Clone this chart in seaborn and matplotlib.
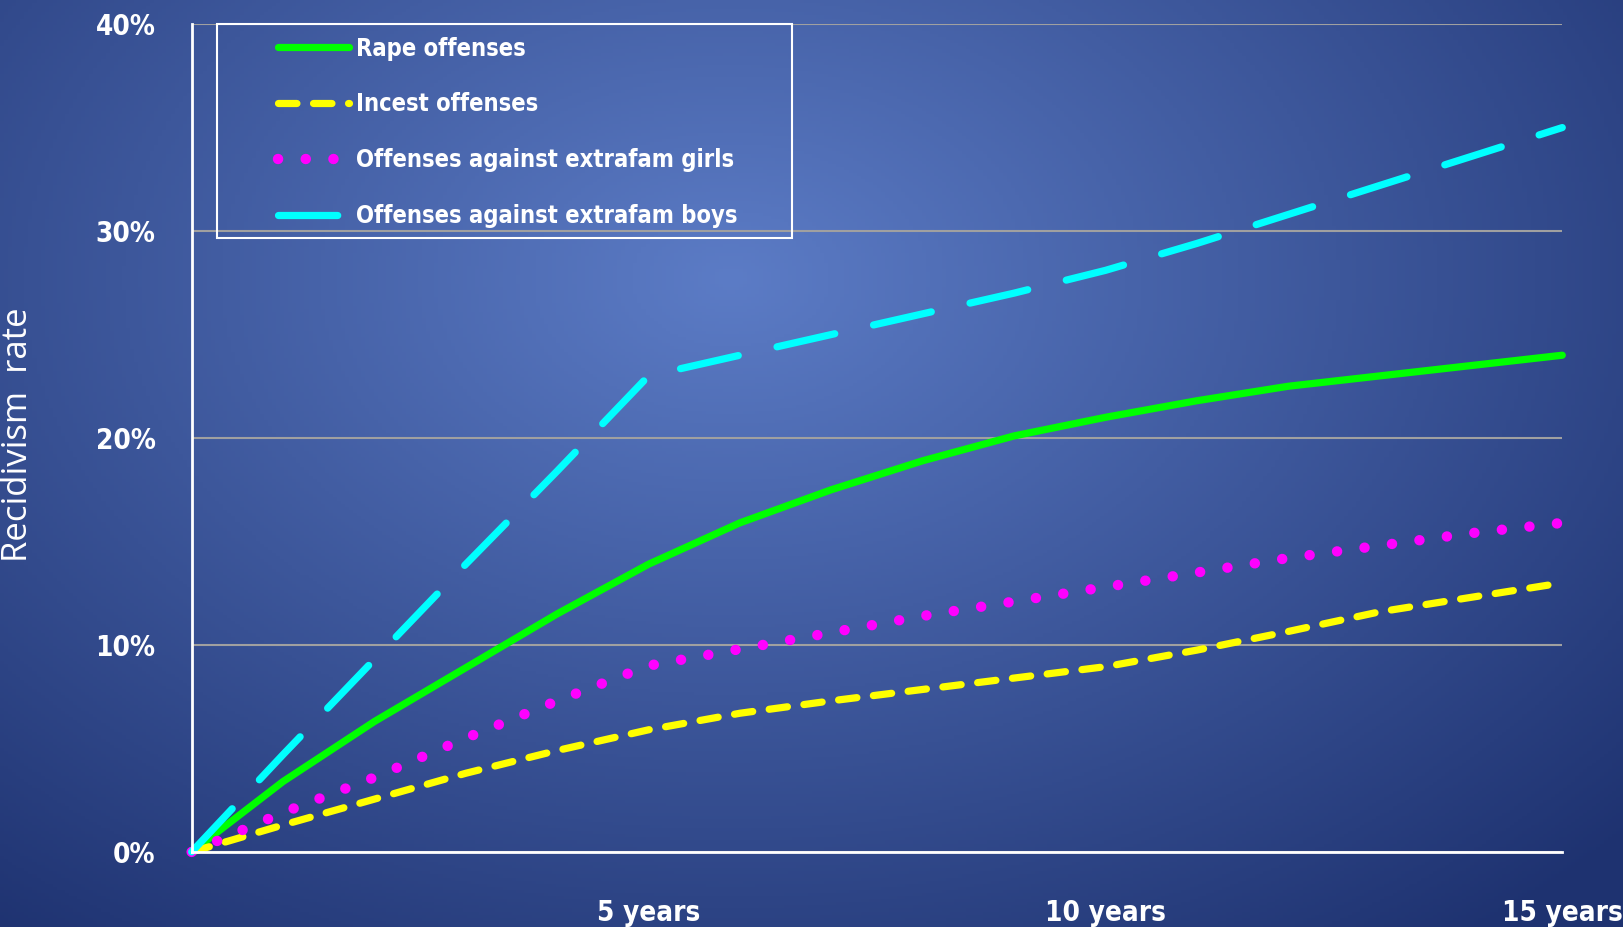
import numpy as np
import pandas as pd
import seaborn as sns
import matplotlib.pyplot as plt
from matplotlib.patches import Rectangle

years = [0, 1, 2, 3, 4, 5, 6, 7, 8, 9, 10, 11, 12, 13, 14, 15]
rape = [0, 3.4, 6.3, 8.9, 11.5, 13.9, 15.9, 17.5, 18.9, 20.1, 21.0, 21.8, 22.5, 23.0, 23.5, 24.0]
incest = [0, 1.3, 2.55, 3.8, 4.9, 5.9, 6.7, 7.3, 7.85, 8.4, 8.95, 9.75, 10.65, 11.6, 12.3, 13.0]
girls = [0, 1.9, 3.6, 5.5, 7.3, 9.0, 9.8, 10.6, 11.4, 12.1, 12.8, 13.5, 14.2, 14.8, 15.4, 15.9]
boys = [0, 4.7, 9.3, 13.9, 18.4, 23.0, 24.0, 25.0, 26.0, 27.0, 28.1, 29.4, 30.8, 32.2, 33.6, 35.0]

series_names = ["Rape offenses", "Incest offenses",
                "Offenses against extrafam girls", "Offenses against extrafam boys"]
series_values = [rape, incest, girls, boys]
colors = ["#00ff00", "#ffff00", "#ff00ff", "#00ffff"]
styles = ["-", (0, (2.55, 2.3)), (0, (0.01, 2.65)), (0, (8.2, 5.5))]
widths = [5.2, 5.2, 7.5, 5.2]

x_ticks = [0, 5, 10, 15]
x_labels = ["", "5 years", "10 years", "15 years"]
y_ticks = [0, 10, 20, 30, 40]
y_labels = ["0%", "10%", "20%", "30%", "40%"]

sns.set_style("white")
plt.rcParams["font.family"] = ["DejaVu Sans"]
plt.rcParams["font.stretch"] = "condensed"

fig = plt.figure(figsize=(16.24, 9.27), dpi=100)

# radial blue background
bg = fig.add_axes([0, 0, 1, 1], zorder=-10)
gx, gy = np.meshgrid(np.linspace(0, 1, 400), np.linspace(0, 1, 300))
r = np.sqrt(((gx - 0.45) / 0.75) ** 2 + ((gy - 0.3) / 0.9) ** 2)
r = np.clip(r, 0, 1)[..., None]
inner = np.array([92, 124, 198]) / 255
outer = np.array([30, 50, 112]) / 255
bg.imshow(inner * (1 - r) + outer * r, aspect="auto", extent=[0, 1, 1, 0])
bg.axis("off")

ax = fig.add_axes([0.118, 0.081, 0.844, 0.893])
ax.set_facecolor("none")

for name, vals, c, ls, lw in zip(series_names, series_values, colors, styles, widths):
    df = pd.DataFrame({"year": years, "rate": vals})
    sns.lineplot(data=df, x="year", y="rate", ax=ax, color=c, linewidth=lw,
                 linestyle=ls, dash_capstyle="round", solid_capstyle="round",
                 label=name, clip_on=False)

ax.set_xlim(0, 15)
ax.set_ylim(0, 40)
ax.set_xticks(x_ticks)
ax.set_xticklabels(x_labels)
ax.set_yticks(y_ticks)
ax.set_yticklabels(y_labels)
ax.set_xlabel("")
ax.set_ylabel("Recidivism  rate", color="white", fontsize=25,
              family=["Open Sans", "DejaVu Sans"], fontstretch="normal")
ax.yaxis.set_label_coords(-0.114, 0.504)

ax.yaxis.grid(True, color="#a0a0a0", linewidth=1.5)
ax.set_axisbelow(True)
for s in ["top", "right"]:
    ax.spines[s].set_visible(False)
for s in ["left", "bottom"]:
    ax.spines[s].set_color("white")
    ax.spines[s].set_linewidth(2)

ax.tick_params(axis="x", colors="white", length=12, width=2, direction="out",
               pad=22, labelsize=20)
ax.tick_params(axis="y", colors="#a0a0a0", length=12, width=1.5, direction="out",
               pad=14, labelsize=20, labelcolor="white")
for t in ax.get_xticklabels() + ax.get_yticklabels():
    t.set_fontweight("bold")

# legend box
ax.add_patch(Rectangle((0.0185, 0.7415), 0.4196, 0.2585, transform=ax.transAxes,
                       fill=False, edgecolor="white", linewidth=1.5, clip_on=False))
leg = ax.legend(loc="upper left", bbox_to_anchor=(0.0628, 0.985), borderaxespad=0,
                borderpad=0, frameon=False, fontsize=17, handlelength=3.0,
                handletextpad=0.3, labelspacing=1.35)
for t in leg.get_texts():
    t.set_color("white")
    t.set_fontweight("bold")

fig.savefig("out.png", dpi=100)
